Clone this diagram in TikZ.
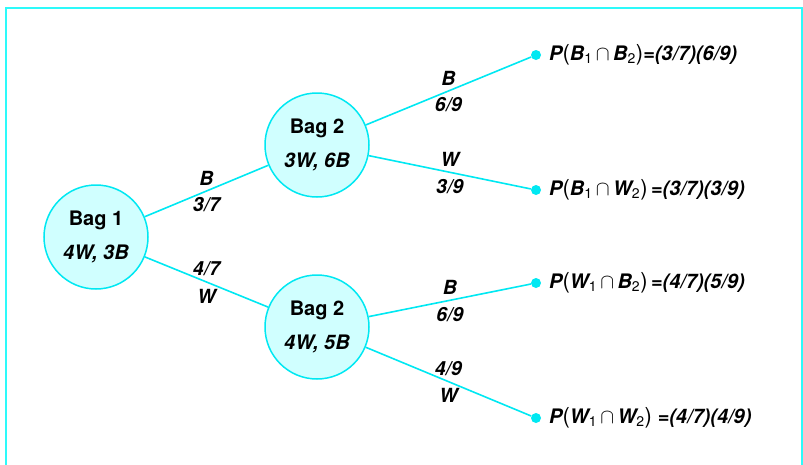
\documentclass[tikz,border=0pt]{standalone}
\usepackage{fontspec}
\setmainfont{TeX Gyre Heros}
\usetikzlibrary{positioning}
\definecolor{treeline}{RGB}{0,232,242}
\definecolor{bagfill}{RGB}{208,255,255}
\definecolor{framecol}{RGB}{45,250,250}
\newcommand{\sbs}[1]{\textsubscript{\mdseries\upshape #1}}
\newcommand{\lp}{{\mdseries\upshape\fontsize{22}{24}\selectfont(}}
\newcommand{\rp}{{\mdseries\upshape\fontsize{22}{24}\selectfont)}}
\newcommand{\capsym}{\,$\cap$\,}
\tikzset{
  bag/.style={circle, draw=treeline, fill=bagfill, line width=1.5pt, minimum size=104pt,
    inner sep=0pt, align=center, text=black, font=\fontsize{20}{24}\selectfont\bfseries},
  leaf/.style={circle, fill=treeline, minimum size=10pt, inner sep=0pt},
  branch/.style={treeline, line width=1.6pt},
  lbl/.style={text=black, font=\fontsize{19.5}{22}\selectfont\bfseries\itshape, inner sep=1pt},
  outcome/.style={text=black, font=\fontsize{20}{24}\selectfont\bfseries\itshape, inner sep=0pt, anchor=west}
}
\begin{document}
\begin{tikzpicture}[x=1pt,y=-1pt]
  \useasboundingbox (0,0) rectangle (803,464);
  \draw[framecol, line width=2pt] (6,470) -- (6,8) -- (802,8) -- (802,470);
  \node[bag] (bagA) at (96,237) {Bag 1\\[10pt]\textit{4W, 3B}};
  \node[bag] (bagB) at (317,145) {Bag 2\\[10pt]\textit{3W, 6B}};
  \node[bag] (bagW) at (317,327) {Bag 2\\[10pt]\textit{4W, 5B}};
  \node[leaf] (bb) at (536,55) {};
  \node[leaf] (bw) at (536,190) {};
  \node[leaf] (wb) at (536,283) {};
  \node[leaf] (ww) at (536,418) {};
  \draw[branch] (bagA) -- node[lbl, above=4pt] {B} node[lbl, below=5pt] {3/7} (bagB);
  \draw[branch] (bagA) -- node[lbl, above=4pt] {4/7} node[lbl, below=5pt] {W} (bagW);
  \draw[branch] (bagB) -- node[lbl, above=4pt] {B} node[lbl, below=5pt] {6/9} (bb);
  \draw[branch] (bagB) -- node[lbl, above=4pt] {W} node[lbl, below=5pt] {3/9} (bw);
  \draw[branch] (bagW) -- node[lbl, above=4pt] {B} node[lbl, below=5pt] {6/9} (wb);
  \draw[branch] (bagW) -- node[lbl, above=4pt] {4/9} node[lbl, below=5pt] {W} (ww);
  \node[outcome, right=13pt of bb.center] (pbb) {P\lp B\sbs{1}\capsym B\sbs{2}\rp=(3/7)(6/9)};
  \node[outcome, right=13pt of bw.center] (pbw) {P\lp B\sbs{1}\capsym W\sbs{2}\rp\,=(3/7)(3/9)};
  \node[outcome, right=13pt of wb.center] (pwb) {P\lp W\sbs{1}\capsym B\sbs{2}\rp\,=(4/7)(5/9)};
  \node[outcome, right=13pt of ww.center] (pww) {P\lp W\sbs{1}\capsym W\sbs{2}\rp\ =(4/7)(4/9)};
\end{tikzpicture}
\end{document}
